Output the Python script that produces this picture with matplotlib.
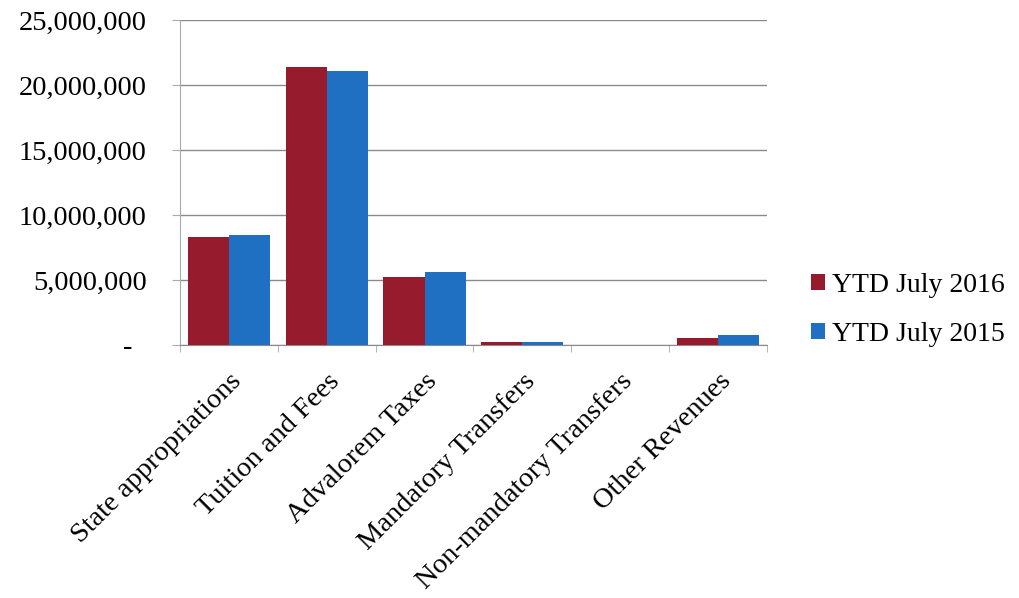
import matplotlib.pyplot as plt
import numpy as np
from matplotlib.ticker import FuncFormatter

categorias = ["State appropriations", "Tuition and Fees", "Advalorem Taxes",
              "Mandatory Transfers", "Non-mandatory Transfers", "Other Revenues"]
ytd_2016 = [8310000, 21410000, 5250000, 250000, 0, 515000]
ytd_2015 = [8460000, 21100000, 5640000, 200000, 0, 770000]
etiquetas = ["YTD July 2016", "YTD July 2015"]

plt.rcParams['font.family'] = ['Liberation Serif', 'DejaVu Serif']

fig = plt.figure(figsize=(10.19, 5.98), dpi=100)
ax = fig.add_axes([0.1766, 0.4231, 0.5761, 0.5435])

x = np.arange(len(categorias))
ancho = 0.42
ax.bar(x - ancho / 2, ytd_2016, ancho, color="#951B2D", label=etiquetas[0], zorder=3)
ax.bar(x + ancho / 2, ytd_2015, ancho, color="#1F6FC3", label=etiquetas[1], zorder=3)

ax.set_xlim(-0.5, len(categorias) - 0.5)
ax.set_ylim(0, 25000000)
ax.set_yticks(range(0, 25000001, 5000000))


def formato(v, pos):
    if v == 0:
        return "-  "
    return f"{int(v):,}"


ax.yaxis.set_major_formatter(FuncFormatter(formato))
ax.yaxis.grid(True, color="#8a8a8a", linewidth=1.0, zorder=0)

ax.set_xticks(x)
ax.set_xticklabels(categorias, rotation=45, ha="right", rotation_mode="anchor")
ax.set_xticks(np.arange(-0.5, len(categorias)), minor=True)
ax.tick_params(axis="x", which="major", length=0, pad=17, labelsize=20.5)
ax.tick_params(axis="x", which="minor", length=5, color="#aaaaaa")
ax.tick_params(axis="y", length=6, color="#aaaaaa", pad=18, labelsize=20.5)

for lado in ["top", "right"]:
    ax.spines[lado].set_visible(False)
ax.spines["left"].set_color("#aaaaaa")
ax.spines["bottom"].set_color("#8a8a8a")

fig.legend(loc="center left", bbox_to_anchor=(0.782, 0.482), frameon=False,
           fontsize=20, handlelength=0.5, handleheight=0.5, handletextpad=0.25,
           labelspacing=0.85, borderpad=0)

fig.savefig("out.png", dpi=100)
